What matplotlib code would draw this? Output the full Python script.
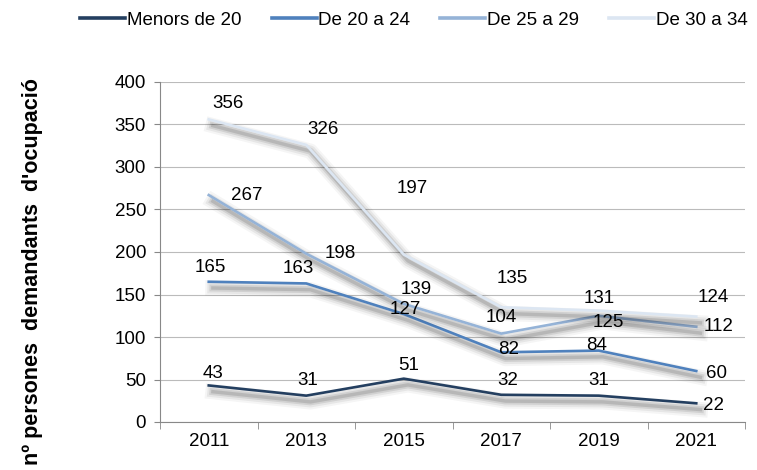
import matplotlib
matplotlib.use("Agg")
import matplotlib.pyplot as plt
import matplotlib.patheffects as pe

years = ["2011", "2013", "2015", "2017", "2019", "2021"]
series_names = ["Menors de 20", "De 20 a 24", "De 25 a 29", "De 30 a 34"]
menors_20 = [43, 31, 51, 32, 31, 22]
de_20_24 = [165, 163, 127, 82, 84, 60]
de_25_29 = [267, 198, 139, 104, 125, 112]
de_30_34 = [356, 326, 197, 135, 131, 124]
yticks = [0, 50, 100, 150, 200, 250, 300, 350, 400]

colors = ["#243F60", "#4F81BD", "#95B3D7", "#DCE6F2"]
# label offsets in pixels (style)
offsets = [
    [(4, 12), (1, 15), (5, 13), (7, 14), (0, 15), (17, -2)],
    [(2, 14), (-8, 15), (2, 5), (7, 3), (-2, 5), (20, -2)],
    [(38, 0), (34, 0), (12, 14), (0, 16), (10, -7), (22, 0)],
    [(19, 16), (17, 15), (9, 66), (11, 29), (0, 12), (17, 19)],
]

plt.rcParams['font.family'] = ['Liberation Sans', 'DejaVu Sans']
fig = plt.figure(figsize=(7.57, 4.70), dpi=100)
ax = fig.add_axes([160/757, 1-422/470, 585/757, 340/470])

x = list(range(len(years)))
off = (3, -4.5)
shadow = [
    pe.SimpleLineShadow(offset=off, shadow_color='black', alpha=0.04, linewidth=11),
    pe.SimpleLineShadow(offset=off, shadow_color='black', alpha=0.06, linewidth=8),
    pe.SimpleLineShadow(offset=off, shadow_color='black', alpha=0.09, linewidth=5),
    pe.SimpleLineShadow(offset=off, shadow_color='black', alpha=0.12, linewidth=2.5),
    pe.Normal(),
]
all_series = [menors_20, de_20_24, de_25_29, de_30_34]
for vals, name, c, offs in zip(all_series, series_names, colors, offsets):
    ax.plot(x, vals, color=c, lw=1.9, label=name, path_effects=shadow, zorder=3)
    for xi, v, o in zip(x, vals, offs):
        ax.annotate(str(v), (xi, v), xytext=o, textcoords='offset pixels',
                    ha='center', va='center', fontsize=13.5, color='black', zorder=5)

ax.set_xlim(-0.5, 5.5)
ax.set_ylim(0, 400)
ax.set_yticks(yticks)
ax.set_xticks(x)
ax.set_xticklabels(years)
ax.set_xticks([i - 0.5 for i in range(len(years) + 1)], minor=True)
ax.tick_params(axis='x', which='major', length=0, labelsize=13.5, pad=8)
ax.tick_params(axis='x', which='minor', length=5, color='#888888')
ax.tick_params(axis='y', length=4, color='#888888', labelsize=13.5, pad=6)
ax.grid(axis='y', color='#BBBBBB', lw=0.8, zorder=0)
ax.set_axisbelow(True)
for s in ['top', 'right']:
    ax.spines[s].set_visible(False)
for s in ['left', 'bottom']:
    ax.spines[s].set_color('#888888')

fig.text(33/757, 1-78/470, "nº persones  demandants  d'ocupació", rotation=90,
         fontsize=15.5, fontweight='bold', ha='center', va='top')

leg = fig.legend(*ax.get_legend_handles_labels(), loc='center', bbox_to_anchor=(0.547, 1-20/470),
                 ncol=4, frameon=False, fontsize=13.5, handlelength=2.4, handletextpad=0.1,
                 columnspacing=1.6)
for h in leg.get_lines():
    h.set_linewidth(2.6)
    h.set_path_effects([])

fig.savefig("out.png", dpi=100)
